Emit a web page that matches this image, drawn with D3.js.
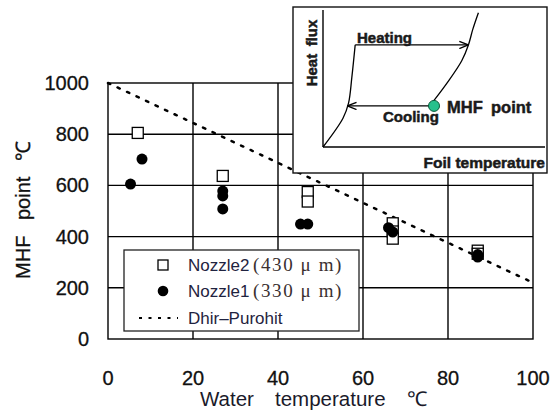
<!DOCTYPE html>
<html><head><meta charset="utf-8">
<script src="https://cdn.jsdelivr.net/npm/d3@7"></script>
<style>body{margin:0;background:#fff}svg{display:block}</style>
</head><body><svg id="c" width="553" height="414"></svg>
<script>
// ---- data ----
const xTicks = [0, 20, 40, 60, 80, 100];
const yTicks = [0, 200, 400, 600, 800, 1000];
const nozzle2X = [7, 27, 47, 47, 67, 67, 67, 87, 87];
const nozzle2Y = [805, 637, 574, 537, 452, 420, 392, 345, 333];
const nozzle1X = [5.3, 8, 27, 27, 27, 45.3, 47, 66, 67, 87, 87];
const nozzle1Y = [605, 703, 578, 559, 508, 449, 449, 435, 418, 330, 320];
const dhirX = [0, 100];
const dhirY = [1000, 220];
const legendLabels = ["Nozzle2", "Nozzle1", "Dhir\u2013Purohit"];
const legendSub = ["(430 \u03bc m)", "(330 \u03bc m)", ""];
// inset schematic (normalized units)
const boilLeftX = [0, 0.09, 0.115, 0.13, 0.145];
const boilLeftY = [0, 0.21, 0.32, 0.51, 0.745];
const boilRightX = [0.5, 0.56, 0.625, 0.655, 0.675, 0.70];
const boilRightY = [0.34, 0.47, 0.63, 0.745, 0.86, 0.98];
const heatingArrow = {x0: 0.145, x1: 0.655, y: 0.745};
const coolingArrow = {x0: 0.5, x1: 0.11, y: 0.30};
const mhfPoint = {x: 0.5, y: 0.30};

const svg = d3.select("#c");
const x = d3.scaleLinear().domain([0, 100]).range([108, 533]);
const y = d3.scaleLinear().domain([0, 1000]).range([339, 83]);

// grid
const g = svg.append("g");
g.selectAll("line.vx").data(xTicks.slice(1, -1)).join("line")
  .attr("x1", d => x(d)).attr("x2", d => x(d)).attr("y1", y(0)).attr("y2", y(1000))
  .attr("stroke", "#000").attr("stroke-width", 1.4);
g.selectAll("line.hy").data(yTicks.slice(1, -1)).join("line")
  .attr("x1", x(0)).attr("x2", x(100)).attr("y1", d => y(d)).attr("y2", d => y(d))
  .attr("stroke", "#000").attr("stroke-width", 1.4);
g.append("rect").attr("x", x(0)).attr("y", y(1000)).attr("width", x(100) - x(0)).attr("height", y(0) - y(1000))
  .attr("fill", "none").attr("stroke", "#000").attr("stroke-width", 1.4);

// tick labels
const tickFont = "Liberation Sans, Arial, sans-serif";
svg.selectAll("text.yt").data(yTicks).join("text")
  .attr("x", 89).attr("y", d => y(d) + 7).attr("text-anchor", "end")
  .attr("font-family", tickFont).attr("font-size", 20).attr("fill", "#111").attr("stroke", "#111").attr("stroke-width", 0.3).text(d => d);
svg.selectAll("text.xt").data(xTicks).join("text")
  .attr("x", d => x(d)).attr("y", 385).attr("text-anchor", "middle")
  .attr("font-family", tickFont).attr("font-size", 20).attr("fill", "#111").attr("stroke", "#111").attr("stroke-width", 0.3).text(d => d);

// axis titles
const xt = svg.append("text").attr("y", 406)
  .attr("font-family", tickFont).attr("font-size", 20.5).attr("fill", "#1a1a2a");
xt.append("tspan").attr("x", 200).text("Water");
xt.append("tspan").attr("x", 275).text("temperature");
xt.append("tspan").attr("x", 407).text("\u2103");
svg.append("text").attr("transform", "translate(30,210) rotate(-90)").attr("text-anchor", "middle")
  .attr("font-family", tickFont).attr("font-size", 20).attr("fill", "#111").attr("stroke", "#111").attr("stroke-width", 0.3)
  .text("MHF\u2002 point\u2002 \u2103");

// Dhir-Purohit line
svg.append("line").attr("x1", x(dhirX[0])).attr("y1", y(dhirY[0])).attr("x2", x(dhirX[1])).attr("y2", y(dhirY[1]))
  .attr("stroke", "#000").attr("stroke-width", 2.5).attr("stroke-dasharray", "2.5,8").attr("stroke-linecap", "round");

// markers
const sq = 11;
svg.selectAll("rect.n2").data(nozzle2X.map((d, i) => [d, nozzle2Y[i]])).join("rect")
  .attr("x", d => x(d[0]) - sq / 2).attr("y", d => y(d[1]) - sq / 2).attr("width", sq).attr("height", sq)
  .attr("fill", "#fff").attr("stroke", "#000").attr("stroke-width", 1.3);
svg.selectAll("circle.n1").data(nozzle1X.map((d, i) => [d, nozzle1Y[i]])).join("circle")
  .attr("cx", d => x(d[0])).attr("cy", d => y(d[1])).attr("r", 5.5).attr("fill", "#000");

// legend
const lg = svg.append("g");
lg.append("rect").attr("x", 124).attr("y", 250).attr("width", 235).attr("height", 81)
  .attr("fill", "#fff").attr("stroke", "#222").attr("stroke-width", 1.3);
lg.append("rect").attr("x", 158).attr("y", 260).attr("width", 10).attr("height", 10)
  .attr("fill", "#fff").attr("stroke", "#000").attr("stroke-width", 1.3);
lg.append("circle").attr("cx", 163).attr("cy", 291).attr("r", 5.3).attr("fill", "#000");
lg.append("line").attr("x1", 139).attr("x2", 178).attr("y1", 318).attr("y2", 318)
  .attr("stroke", "#000").attr("stroke-width", 1.8).attr("stroke-dasharray", "3,6.5");
const ly = [271, 297, 324];
legendLabels.forEach((t, i) => {
  const tx = lg.append("text").attr("x", 188).attr("y", ly[i])
    .attr("font-family", "Liberation Sans, Arial, sans-serif").attr("font-size", 17).attr("fill", "#1f2340");
  tx.append("tspan").text(t);
  if (legendSub[i]) tx.append("tspan").attr("x", 253).attr("font-family", "Liberation Serif, serif")
    .attr("font-size", 19).attr("letter-spacing", 1.6).attr("fill", "#3a3030").text(legendSub[i]);
});

// ---- inset ----
const ig = svg.append("g");
ig.append("rect").attr("x", 293).attr("y", 7).attr("width", 254).attr("height", 166)
  .attr("fill", "#fff").attr("stroke", "#111").attr("stroke-width", 1.4);
const ix = d3.scaleLinear().domain([0, 1]).range([323, 545]);
const iy = d3.scaleLinear().domain([0, 1]).range([147, 10]);
ig.append("line").attr("x1", ix(0)).attr("x2", ix(0)).attr("y1", iy(0)).attr("y2", iy(1)).attr("stroke", "#000").attr("stroke-width", 1.4);
ig.append("line").attr("x1", ix(0)).attr("x2", ix(1)).attr("y1", iy(0)).attr("y2", iy(0)).attr("stroke", "#000").attr("stroke-width", 1.4);
const curve = d3.line().x(d => ix(d[0])).y(d => iy(d[1])).curve(d3.curveCatmullRom);
ig.append("path").attr("d", curve(boilLeftX.map((d, i) => [d, boilLeftY[i]])))
  .attr("fill", "none").attr("stroke", "#000").attr("stroke-width", 1.3);
ig.append("path").attr("d", curve(boilRightX.map((d, i) => [d, boilRightY[i]])))
  .attr("fill", "none").attr("stroke", "#000").attr("stroke-width", 1.3);
const defs = svg.append("defs");
defs.append("marker").attr("id", "ah").attr("viewBox", "0 0 10 10").attr("refX", 10).attr("refY", 5)
  .attr("markerWidth", 7).attr("markerHeight", 7).attr("orient", "auto-start-reverse")
  .append("path").attr("d", "M0,1 L10,5 L0,9").attr("fill", "none").attr("stroke", "#000").attr("stroke-width", 1.5);
ig.append("line").attr("x1", ix(heatingArrow.x0)).attr("x2", ix(heatingArrow.x1)).attr("y1", iy(heatingArrow.y)).attr("y2", iy(heatingArrow.y))
  .attr("stroke", "#000").attr("stroke-width", 1.3).attr("marker-end", "url(#ah)");
ig.append("line").attr("x1", ix(coolingArrow.x0)).attr("x2", ix(coolingArrow.x1)).attr("y1", iy(coolingArrow.y)).attr("y2", iy(coolingArrow.y))
  .attr("stroke", "#000").attr("stroke-width", 1.3).attr("marker-end", "url(#ah)");
ig.append("circle").attr("cx", ix(mhfPoint.x)).attr("cy", iy(mhfPoint.y)).attr("r", 5.5)
  .attr("fill", "#26c08c").attr("stroke", "#0a5a3a").attr("stroke-width", 1);
const bf = "Liberation Sans, Arial, sans-serif";
function itext(tx, ty, size, s, anchor) {
  return ig.append("text").attr("x", tx).attr("y", ty).attr("text-anchor", anchor || "start")
    .attr("font-family", bf).attr("font-weight", "bold").attr("font-size", size)
    .attr("fill", "#1a1a1a").attr("stroke", "#1a1a1a").attr("stroke-width", 0.5).text(s);
}
itext(357, 43, 15, "Heating");
itext(383, 122, 15, "Cooling");
itext(447, 113, 16.5, "MHF\u2002point");
itext(545, 168, 15.5, "Foil temperature", "end");
ig.append("text").attr("transform", "translate(317,53) rotate(-90)").attr("text-anchor", "middle")
  .attr("font-family", bf).attr("font-weight", "bold").attr("font-size", 15)
  .attr("fill", "#1a1a1a").attr("stroke", "#1a1a1a").attr("stroke-width", 0.5).text("Heat\u2002flux");
</script></body></html>
